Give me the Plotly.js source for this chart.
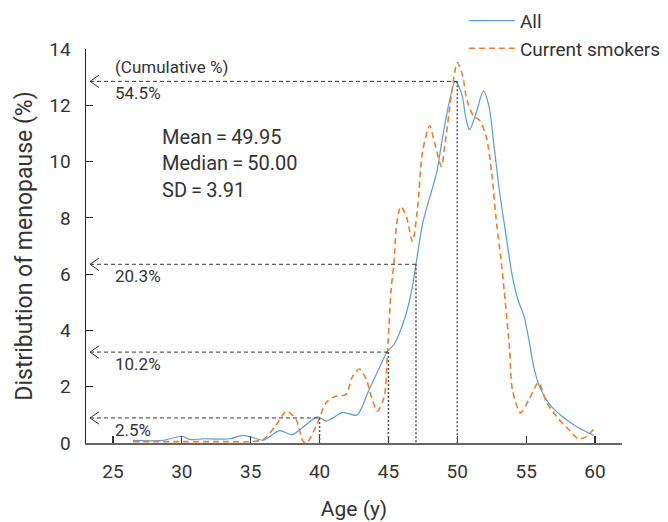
<!DOCTYPE html>
<html>
<head>
<meta charset="utf-8">
<script src="https://cdn.plot.ly/plotly-3.0.1.min.js"></script>
<style>html,body{margin:0;padding:0;background:#fff;}#chart{width:668px;height:522px;}</style>
</head>
<body>
<div id="chart"></div>
<script>
// ---- Data ----
const allAge = [26.45, 28.6, 30.0, 30.6, 31.5, 32.5, 33.5, 34.4, 35.1, 35.9, 37.1, 38.0, 39.85, 40.5, 41.7, 42.7, 43.6, 44.35, 44.93, 45.4, 46.2, 46.7, 47.0, 47.5, 48.1, 48.5, 48.9, 49.4, 49.85, 50.3, 50.65, 50.9, 51.4, 51.9, 52.3, 52.7, 53.05, 53.55, 54.0, 54.4, 54.85, 55.2, 55.6, 56.07, 56.7, 57.6, 58.8, 59.9];
const allVal = [0.09, 0.09, 0.24, 0.12, 0.15, 0.14, 0.15, 0.27, 0.2, 0.1, 0.44, 0.3, 0.93, 0.78, 1.09, 0.99, 1.9, 2.68, 3.26, 3.5, 4.45, 5.45, 6.35, 7.83, 8.9, 9.6, 10.77, 12.08, 12.85, 12.44, 11.48, 11.13, 11.78, 12.51, 11.96, 10.42, 9.0, 7.34, 5.92, 5.1, 4.5, 3.67, 2.6, 1.9, 1.37, 0.95, 0.54, 0.27];

const smkAge = [26.45, 30.0, 33.0, 35.1, 35.9, 36.8, 37.6, 38.3, 38.8, 39.05, 39.8, 40.5, 41.2, 41.9, 42.4, 42.9, 43.4, 43.75, 44.2, 44.7, 44.9, 45.2, 45.4, 45.6, 45.9, 46.3, 46.75, 47.1, 47.5, 48.0, 48.3, 48.85, 49.05, 49.4, 49.8, 50.0, 50.4, 50.7, 51.2, 51.6, 52.1, 52.5, 52.8, 53.2, 53.4, 53.8, 54.0, 54.6, 55.2, 55.9, 56.5, 57.4, 58.1, 58.8, 59.4, 60.0];
const smkVal = [0.05, 0.05, 0.05, 0.05, 0.12, 0.6, 1.13, 0.83, 0.06, 0.0, 0.65, 1.45, 1.66, 1.72, 2.37, 2.63, 2.25, 1.66, 1.13, 1.66, 2.96, 5.45, 6.4, 7.8, 8.4, 8.05, 7.16, 8.29, 10.42, 11.27, 10.77, 9.83, 10.42, 11.72, 13.14, 13.52, 13.02, 12.19, 11.6, 11.48, 10.89, 9.59, 8.05, 6.4, 5.45, 3.32, 1.9, 1.07, 1.54, 2.14, 1.43, 0.83, 0.48, 0.15, 0.24, 0.56];

const seriesNames = ['All', 'Current smokers'];

// cumulative reference markers
const refAges = [40, 45, 47, 50];
const refLevels = [0.89, 3.23, 6.35, 12.85];
const refLabels = ['2.5%', '10.2%', '20.3%', '54.5%'];

const statLabels = ['Mean\u2009=\u200949.95', 'Median\u2009=\u200950.00', 'SD\u2009=\u20093.91'];
const statLevels = [10.92, 9.99, 9.03];

const xTicks = [25, 30, 35, 40, 45, 50, 55, 60];
const yTicks = [0, 2, 4, 6, 8, 10, 12, 14];

// ---- Styling ----
const FONT = "Roboto, 'Liberation Sans', sans-serif";
const TXT = '#333333';
const arrowTipX = 23.33;

const shapes = [];
const annotations = [];
refAges.forEach((a, i) => {
  const L = refLevels[i];
  shapes.push({type: 'line', xref: 'x', yref: 'y', x0: arrowTipX, x1: a, y0: L, y1: L,
    line: {color: '#333', width: 1, dash: '4px,3px'}});
  shapes.push({type: 'line', xref: 'x', yref: 'y', x0: a, x1: a, y0: L, y1: 0,
    line: {color: '#555', width: 1.5, dash: '2px,2px'}});
  const ax = arrowTipX + 0.65, dy = 0.22;
  shapes.push({type: 'path', xref: 'x', yref: 'y',
    path: `M${ax},${L + dy} L${arrowTipX},${L} L${ax},${L - dy}`,
    line: {color: '#333', width: 1}});
  annotations.push({x: 25, y: L, xref: 'x', yref: 'y', text: refLabels[i], showarrow: false,
    xanchor: 'left', yanchor: 'middle', yshift: -12, font: {family: FONT, size: 17, color: TXT}});
});
annotations.push({x: 25, y: refLevels[3], xref: 'x', yref: 'y', text: '(Cumulative %)', showarrow: false,
  xanchor: 'left', yanchor: 'middle', yshift: 14, font: {family: FONT, size: 17, color: TXT}});
statLabels.forEach((t, i) => {
  annotations.push({x: 28.41, y: statLevels[i], xref: 'x', yref: 'y', text: t, showarrow: false,
    xanchor: 'left', yanchor: 'middle', yshift: -1, font: {family: FONT, size: 20, color: TXT}});
});

const traces = [
  {x: allAge, y: allVal, name: seriesNames[0], mode: 'lines', legendgroup: 'a',
   line: {color: '#5b9bd5', width: 1.2, shape: 'spline', smoothing: 0.8}},
  {x: smkAge, y: smkVal, name: seriesNames[1], mode: 'lines', legendgroup: 'b',
   line: {color: '#ed7d31', width: 1.6, dash: '6px,4px', shape: 'spline', smoothing: 0.8}}
];

const layout = {
  width: 668, height: 522,
  margin: {l: 86, r: 46, t: 49, b: 78.5, autoexpand: false},
  paper_bgcolor: '#fff', plot_bgcolor: '#fff',
  font: {family: FONT, color: TXT, size: 18},
  showlegend: true,
  legend: {x: 0.705, xanchor: 'left', y: 1.12, yanchor: 'top', bgcolor: 'rgba(0,0,0,0)',
    font: {family: FONT, size: 19, color: TXT}, traceorder: 'grouped', tracegroupgap: 0,
    itemwidth: 46},
  xaxis: {range: [23.04, 61.96], tickvals: xTicks, ticktext: xTicks.map(String),
    showgrid: false, zeroline: false, showline: true, linecolor: '#666', linewidth: 2,
    ticks: 'inside', ticklen: 7, tickcolor: '#333', tickwidth: 1.2, ticklabelstandoff: 10,
    tickfont: {family: FONT, size: 19, color: TXT},
    title: {text: 'Age (y)', font: {family: FONT, size: 21, color: TXT}, standoff: 20}},
  yaxis: {range: [0, 14], tickvals: yTicks, ticktext: yTicks.map(String),
    showgrid: false, zeroline: false, showline: true, linecolor: '#222', linewidth: 1.5,
    ticks: 'inside', ticklen: 7, tickcolor: '#222', tickwidth: 1.2, ticklabelstandoff: 10,
    tickfont: {family: FONT, size: 19, color: TXT},
    title: {text: 'Distribution of menopause (%)', font: {family: FONT, size: 23, color: TXT}, standoff: 10}},
  shapes: shapes,
  annotations: annotations
};

Plotly.newPlot('chart', traces, layout, {displayModeBar: false, staticPlot: true});
</script>
</body>
</html>
